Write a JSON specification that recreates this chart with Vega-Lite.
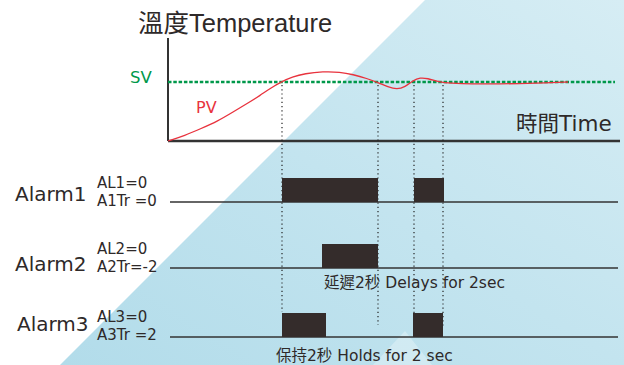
{
  "$schema": "https://vega.github.io/schema/vega-lite/v6.json",
  "width": 624,
  "height": 365,
  "autosize": {"type": "fit", "contains": "padding"},
  "padding": 0,
  "background": "white",
  "config": {"view": {"stroke": null}},
  "datasets": {
    "bg": [{"t": 60, "v": 365}, {"t": 425, "v": 0}, {"t": 624, "v": 0}],
    "glow": [{"t": 373, "v": 365}, {"t": 405, "v": 331}, {"t": 432, "v": 365}],
    "vaxis": [{"t": 168, "v": 38, "v2": 141}],
    "haxis": [{"t": 168, "t2": 620, "v": 141}],
    "sv": [{"t": 168, "t2": 615, "v": 82}],
    "pv": [
      {"t": 168, "v": 141}, {"t": 185, "v": 135.5}, {"t": 200, "v": 129}, {"t": 218, "v": 121},
      {"t": 233, "v": 112}, {"t": 248, "v": 103}, {"t": 260, "v": 95.5}, {"t": 270, "v": 88.5},
      {"t": 282, "v": 81.5}, {"t": 292, "v": 77}, {"t": 305, "v": 73.5}, {"t": 323, "v": 71.5},
      {"t": 340, "v": 72}, {"t": 353, "v": 74.5}, {"t": 367, "v": 78.5}, {"t": 378, "v": 82.5},
      {"t": 388, "v": 87}, {"t": 397, "v": 89.5}, {"t": 405, "v": 87}, {"t": 413, "v": 80.5},
      {"t": 420, "v": 77.5}, {"t": 428, "v": 78.5}, {"t": 436, "v": 81}, {"t": 443, "v": 82.8},
      {"t": 460, "v": 83.8}, {"t": 490, "v": 84}, {"t": 520, "v": 83.6}, {"t": 545, "v": 82.8},
      {"t": 568, "v": 82}
    ],
    "markers": [
      {"t": 282, "v": 85, "v2": 312},
      {"t": 378, "v": 85, "v2": 325},
      {"t": 414, "v": 85, "v2": 313},
      {"t": 443, "v": 85, "v2": 327}
    ],
    "baselines": [
      {"t": 170, "t2": 618, "v": 202},
      {"t": 170, "t2": 618, "v": 268},
      {"t": 170, "t2": 618, "v": 337}
    ],
    "pulses": [
      {"t": 282, "t2": 378, "v": 178, "v2": 202},
      {"t": 414, "t2": 444, "v": 178, "v2": 202},
      {"t": 322, "t2": 378, "v": 244, "v2": 268},
      {"t": 282, "t2": 326, "v": 313, "v2": 337},
      {"t": 413, "t2": 443, "v": 313, "v2": 337}
    ],
    "title": [{"t": 138, "v": 32, "label": "溫度Temperature"}],
    "timeLabel": [{"t": 516, "v": 131, "label": "時間Time"}],
    "svLabel": [{"t": 130, "v": 83, "label": "SV"}],
    "pvLabel": [{"t": 196, "v": 113, "label": "PV"}],
    "alarms": [
      {"t": 15, "v": 201, "label": "Alarm1"},
      {"t": 15, "v": 271, "label": "Alarm2"},
      {"t": 17, "v": 331, "label": "Alarm3"}
    ],
    "params": [
      {"t": 97, "v": 188, "label": "AL1=0"},
      {"t": 97, "v": 206, "label": "A1Tr =0"},
      {"t": 97, "v": 254, "label": "AL2=0"},
      {"t": 97, "v": 272, "label": "A2Tr=-2"},
      {"t": 97, "v": 322, "label": "AL3=0"},
      {"t": 97, "v": 340, "label": "A3Tr =2"}
    ],
    "notes": [
      {"t": 324, "v": 288, "label": "延遲2秒 Delays for 2sec"},
      {"t": 276, "v": 361, "label": "保持2秒 Holds for 2 sec"}
    ]
  },
  "encoding": {
    "x": {"field": "t", "type": "quantitative", "scale": {"domain": [0, 624], "nice": false, "zero": false}, "axis": null},
    "y": {"field": "v", "type": "quantitative", "scale": {"domain": [0, 365], "nice": false, "zero": false, "reverse": true}, "axis": null}
  },
  "layer": [
    {
      "data": {"name": "bg"},
      "mark": {"type": "area", "color": {"gradient": "linear", "x1": 0, "y1": 1, "x2": 1, "y2": 0, "stops": [{"offset": 0, "color": "#b2dcea"}, {"offset": 0.5, "color": "#c3e4ef"}, {"offset": 1, "color": "#d6edf4"}]}},
      "encoding": {"y2": {"datum": 365}}
    },
    {
      "data": {"name": "glow"},
      "mark": {"type": "area", "color": "white", "opacity": 0.3},
      "encoding": {"y2": {"datum": 365}}
    },
    {
      "data": {"name": "vaxis"},
      "mark": {"type": "rule", "color": "#333333", "strokeWidth": 2},
      "encoding": {"y2": {"field": "v2"}}
    },
    {
      "data": {"name": "haxis"},
      "mark": {"type": "rule", "color": "#333333", "strokeWidth": 2.5},
      "encoding": {"x2": {"field": "t2"}}
    },
    {
      "data": {"name": "sv"},
      "mark": {"type": "rule", "color": "#00984a", "strokeWidth": 2.5, "strokeDash": [3.5, 1.8]},
      "encoding": {"x2": {"field": "t2"}}
    },
    {
      "data": {"name": "pv"},
      "mark": {"type": "line", "color": "#e8323d", "strokeWidth": 1.3, "interpolate": "basis"},
      "encoding": {"order": {"field": "t", "type": "quantitative"}}
    },
    {
      "data": {"name": "markers"},
      "mark": {"type": "rule", "color": "#222222", "strokeWidth": 1.2, "strokeDash": [1.2, 3]},
      "encoding": {"y2": {"field": "v2"}}
    },
    {
      "data": {"name": "baselines"},
      "mark": {"type": "rule", "color": "#333333", "strokeWidth": 1.6},
      "encoding": {"x2": {"field": "t2"}}
    },
    {
      "data": {"name": "pulses"},
      "mark": {"type": "rect", "color": "#342c2b"},
      "encoding": {"x2": {"field": "t2"}, "y2": {"field": "v2"}}
    },
    {
      "data": {"name": "title"},
      "mark": {"type": "text", "align": "left", "baseline": "alphabetic", "font": "Liberation Sans, Noto Sans CJK TC", "fontSize": 25.5, "color": "#2e2929"},
      "encoding": {"text": {"field": "label"}}
    },
    {
      "data": {"name": "timeLabel"},
      "mark": {"type": "text", "align": "left", "baseline": "alphabetic", "font": "DejaVu Sans, Noto Sans CJK TC", "fontSize": 21.5, "color": "#2e2929"},
      "encoding": {"text": {"field": "label"}}
    },
    {
      "data": {"name": "svLabel"},
      "mark": {"type": "text", "align": "left", "baseline": "alphabetic", "font": "DejaVu Sans", "fontSize": 16.5, "color": "#00984a"},
      "encoding": {"text": {"field": "label"}}
    },
    {
      "data": {"name": "pvLabel"},
      "mark": {"type": "text", "align": "left", "baseline": "alphabetic", "font": "DejaVu Sans", "fontSize": 16, "color": "#e8323d"},
      "encoding": {"text": {"field": "label"}}
    },
    {
      "data": {"name": "alarms"},
      "mark": {"type": "text", "align": "left", "baseline": "alphabetic", "font": "DejaVu Sans", "fontSize": 20, "color": "#2e2929"},
      "encoding": {"text": {"field": "label"}}
    },
    {
      "data": {"name": "params"},
      "mark": {"type": "text", "align": "left", "baseline": "alphabetic", "font": "DejaVu Sans", "fontSize": 15, "color": "#2e2929"},
      "encoding": {"text": {"field": "label"}}
    },
    {
      "data": {"name": "notes"},
      "mark": {"type": "text", "align": "left", "baseline": "alphabetic", "font": "DejaVu Sans, Noto Sans CJK TC", "fontSize": 15.5, "color": "#2e2929"},
      "encoding": {"text": {"field": "label"}}
    }
  ]
}
